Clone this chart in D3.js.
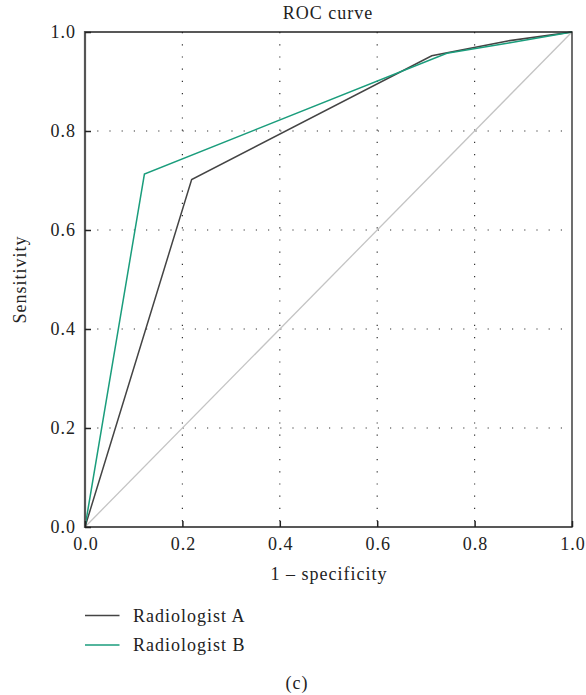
<!DOCTYPE html>
<html>
<head>
<meta charset="utf-8">
<script src="https://cdn.jsdelivr.net/npm/d3@7"></script>
<style>
  body { margin: 0; background: white; }
  text { font-family: "Liberation Serif", "DejaVu Serif", serif; fill: #222; letter-spacing: 1px; }
</style>
</head>
<body>
<div id="chart"></div>
<script>
// ROC points
var fprA = [0, 0.219, 0.712, 0.868, 1];
var tprA = [0, 0.702, 0.952, 0.982, 1];
var fprB = [0, 0.122, 0.743, 0.87, 1];
var tprB = [0, 0.713, 0.957, 0.978, 1];
var tickValues = [0, 0.2, 0.4, 0.6, 0.8, 1.0];
var gridValues = [0.2, 0.4, 0.6, 0.8];
var seriesNames = ["Radiologist A", "Radiologist B"];
var seriesColors = ["#444444", "#1a9d7c"];

var width = 586, height = 695;
var plotLeft = 85, plotRight = 572, plotTop = 32, plotBottom = 527;

var svg = d3.select("#chart").append("svg")
  .attr("width", width)
  .attr("height", height);

var x = d3.scaleLinear().domain([0, 1]).range([plotLeft, plotRight]);
var y = d3.scaleLinear().domain([0, 1]).range([plotBottom, plotTop]);

// dotted grid
svg.append("g").selectAll("line")
  .data(gridValues).enter().append("line")
    .attr("x1", function(d) { return x(d); })
    .attr("x2", function(d) { return x(d); })
    .attr("y1", plotTop).attr("y2", plotBottom)
    .attr("stroke", "#333").attr("stroke-width", 1.2)
    .attr("stroke-dasharray", "1.2,11");
svg.append("g").selectAll("line")
  .data(gridValues).enter().append("line")
    .attr("y1", function(d) { return y(d); })
    .attr("y2", function(d) { return y(d); })
    .attr("x1", plotLeft).attr("x2", plotRight)
    .attr("stroke", "#333").attr("stroke-width", 1.2)
    .attr("stroke-dasharray", "1.2,11");

// chance line
svg.append("line")
  .attr("x1", x(0)).attr("y1", y(0))
  .attr("x2", x(1)).attr("y2", y(1))
  .attr("stroke", "#c4c4c4").attr("stroke-width", 1.3);

var line = d3.line()
  .x(function(d) { return x(d[0]); })
  .y(function(d) { return y(d[1]); });

var seriesData = [
  d3.zip(fprA, tprA),
  d3.zip(fprB, tprB)
];

svg.append("g").selectAll("path")
  .data(seriesData).enter().append("path")
    .attr("d", line)
    .attr("fill", "none")
    .attr("stroke", function(d, i) { return seriesColors[i]; })
    .attr("stroke-width", 1.5);

// frame
svg.append("path")
  .attr("d", "M" + plotLeft + "," + plotTop + "H" + plotRight + "V" + plotBottom + "H" + plotLeft)
  .attr("fill", "none").attr("stroke", "#222").attr("stroke-width", 1.3);
svg.append("line")
  .attr("x1", plotLeft).attr("x2", plotLeft).attr("y1", plotTop - 1).attr("y2", plotBottom + 1)
  .attr("stroke", "#555").attr("stroke-width", 2.2);

// axes with inward ticks
var xAxis = svg.append("g")
  .attr("transform", "translate(0," + plotBottom + ")")
  .call(d3.axisBottom(x).tickValues(tickValues).tickSize(-6).tickPadding(10)
    .tickFormat(d3.format(".1f")));
var yAxis = svg.append("g")
  .attr("transform", "translate(" + plotLeft + ",0)")
  .call(d3.axisLeft(y).tickValues(tickValues).tickSize(-6).tickPadding(9)
    .tickFormat(d3.format(".1f")));
[xAxis, yAxis].forEach(function(a) {
  a.select(".domain").remove();
  a.selectAll(".tick line").attr("stroke", "#222").attr("stroke-width", 1.5);
  a.selectAll(".tick text").style("font-size", "18px")
    .style("font-family", "'Liberation Serif', serif").attr("fill", "#222");
});
xAxis.selectAll(".tick text").attr("dx", "0.5px");
yAxis.selectAll(".tick text").attr("dy", "0.28em");

// titles
svg.append("text")
  .attr("x", 328).attr("y", 18.5)
  .attr("text-anchor", "middle").style("font-size", "18px")
  .text("ROC curve");
svg.append("text")
  .attr("x", 329).attr("y", 580)
  .attr("text-anchor", "middle").style("font-size", "18px")
  .text("1 \u2013 specificity");
svg.append("text")
  .attr("transform", "translate(26," + (plotTop + plotBottom) / 2 + ") rotate(-90)")
  .attr("text-anchor", "middle").style("font-size", "18px")
  .text("Sensitivity");

// legend
var legend = svg.append("g").selectAll("g")
  .data(seriesNames).enter().append("g")
    .attr("transform", function(d, i) { return "translate(85," + (615.5 + i * 29.5) + ")"; });
legend.append("line")
  .attr("x1", 0).attr("x2", 34.5)
  .attr("stroke", function(d, i) { return seriesColors[i]; })
  .attr("stroke-width", 1.3);
legend.append("text")
  .attr("x", 48).attr("dy", "0.35em")
  .style("font-size", "18px")
  .text(function(d) { return d; });

svg.append("text")
  .attr("x", 297).attr("y", 689)
  .attr("text-anchor", "middle").style("font-size", "18px")
  .text("(c)");
</script>
</body>
</html>
